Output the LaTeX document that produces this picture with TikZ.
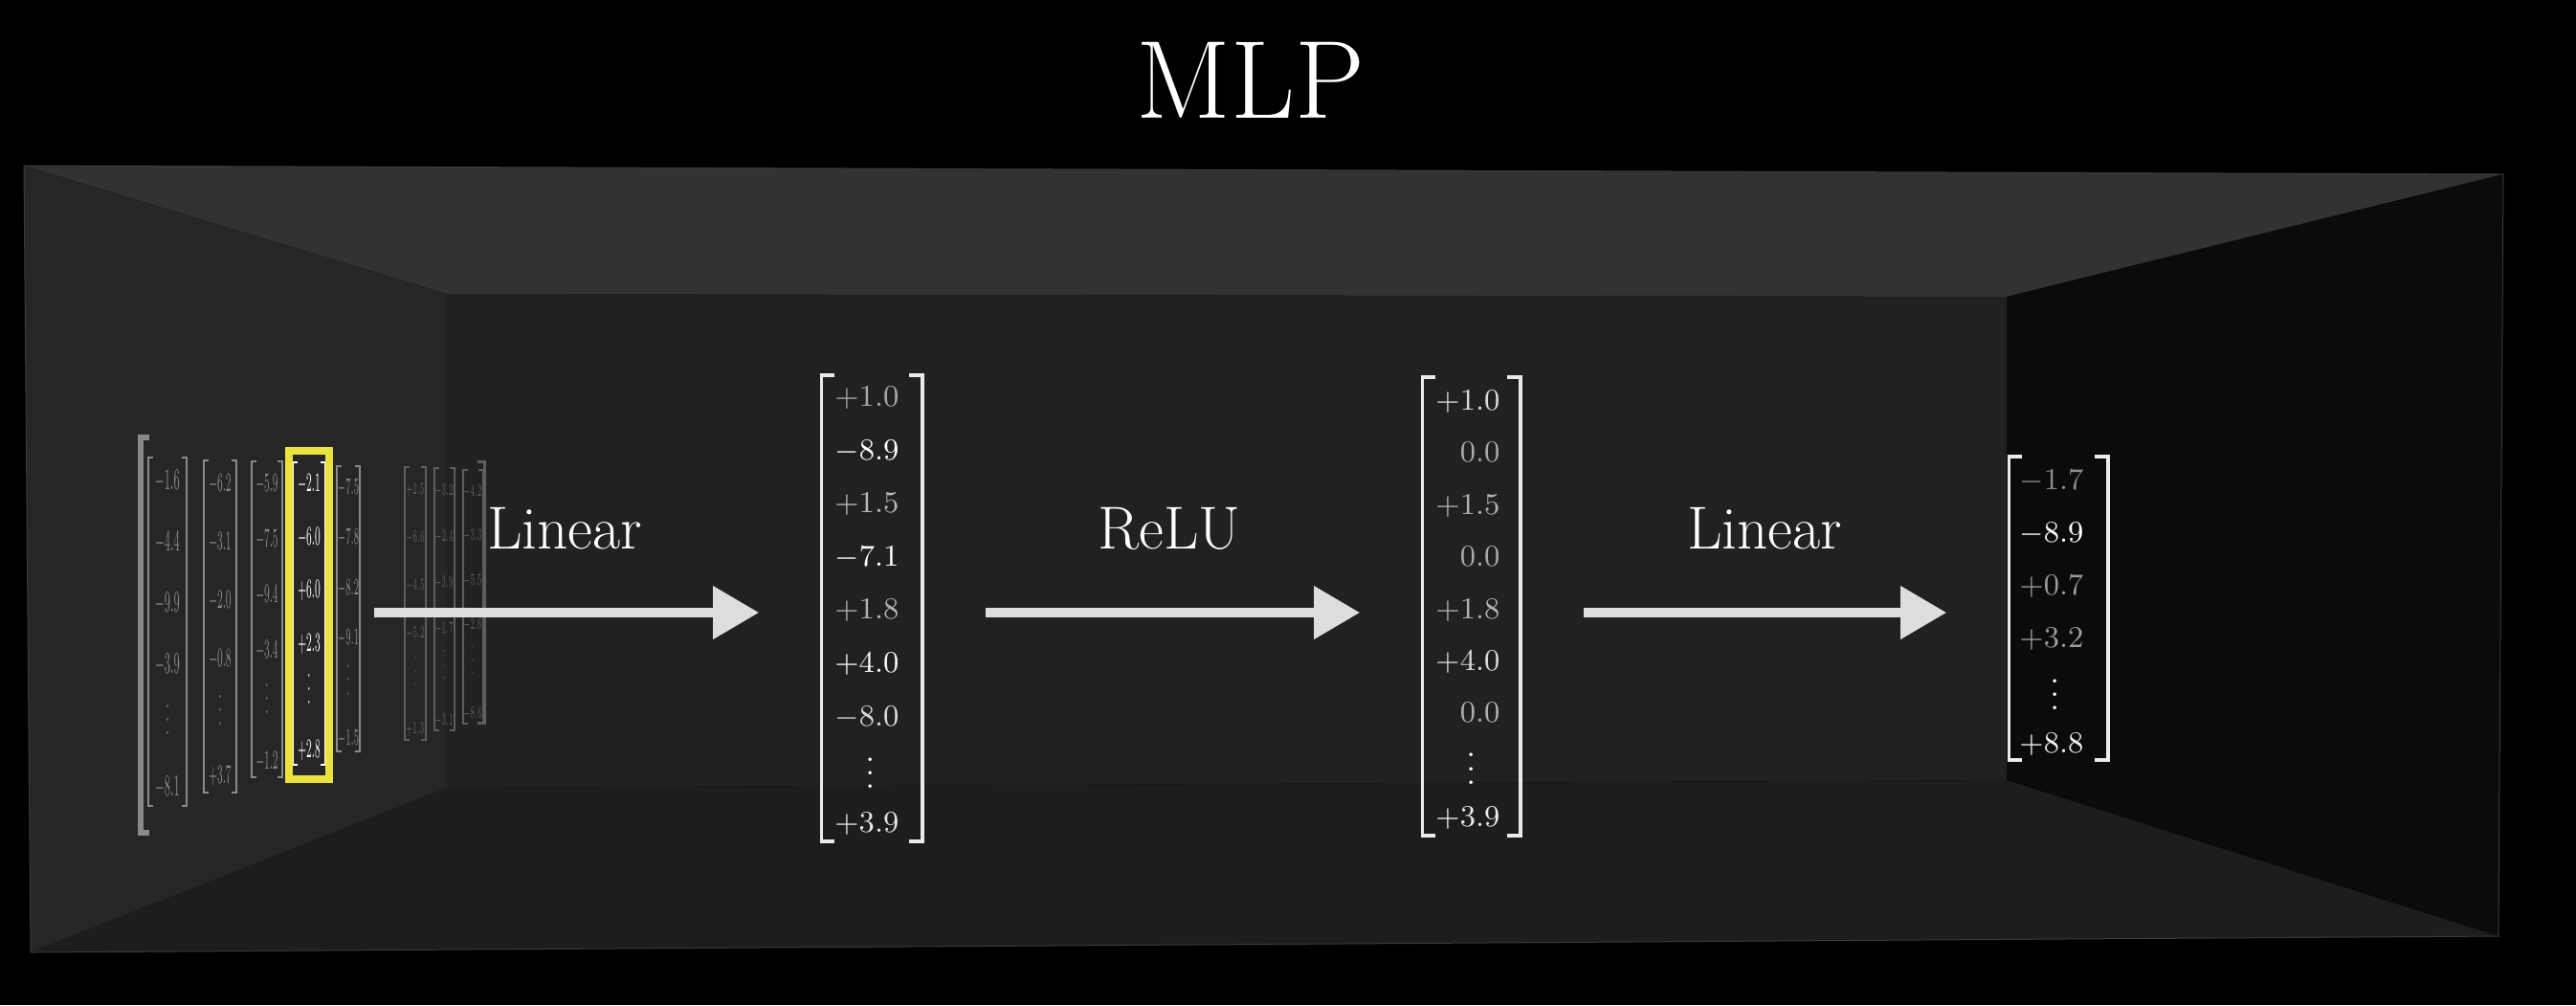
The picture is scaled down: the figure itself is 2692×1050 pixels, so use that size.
\documentclass[tikz,border=0pt]{standalone}
\usepackage{amsmath}
\usepackage{graphicx}
\usepackage{xcolor}
\usepackage{tikz}
\usetikzlibrary{arrows.meta}
\definecolor{ceil}{HTML}{323232}
\definecolor{lwall}{HTML}{262626}
\definecolor{bwall}{HTML}{212121}
\definecolor{flr}{HTML}{1D1D1D}
\definecolor{rwall}{HTML}{0B0B0B}
\definecolor{edgegray}{HTML}{3A3A3A}
\definecolor{arrowgray}{HTML}{DDDDDD}
\definecolor{matgray}{HTML}{8A8A8A}
\definecolor{fargray}{HTML}{5E5E5E}
\definecolor{hlyellow}{RGB}{236,226,62}

\begin{document}
\begin{tikzpicture}[x=0.01cm, y=-0.01cm,
  entry/.style={anchor=east, inner sep=0pt, text height=0.65em, text depth=0pt, font=\fontsize{9.5}{11}\selectfont},
  vecbox/.style={inner sep=0pt},
  brk/.style={line width=0.035cm, white!92!black},
  mcell/.style={inner sep=0pt, text height=0.65em, text depth=0pt},
  mbrk/.style={line width=0.02cm},
  selbox/.style={draw=hlyellow, line width=0.075cm, minimum width=0.42cm, minimum height=3.43cm, inner sep=0pt},
  flow/.style={line width=0.1cm, arrowgray, -{Triangle[length=0.48cm, width=0.53cm]}, shorten <=0.66cm, shorten >=0.65cm},
  lbl/.style={text=white, font=\fontsize{18}{22}\selectfont}]
  \fill[black] (0,0) rectangle (2692,1050);
  % the room
  \coordinate (o1) at (25,173); \coordinate (o2) at (2616,182);
  \coordinate (o3) at (2611,978); \coordinate (o4) at (32,995);
  \coordinate (i1) at (467,307); \coordinate (i2) at (2097,310);
  \coordinate (i3) at (2097,815); \coordinate (i4) at (467,823);
  \fill[ceil] (o1) -- (o2) -- (i2) -- (i1) -- cycle;
  \fill[lwall] (o1) -- (i1) -- (i4) -- (o4) -- cycle;
  \fill[bwall] (i1) -- (i2) -- (i3) -- (i4) -- cycle;
  \fill[flr] (i4) -- (i3) -- (o3) -- (o4) -- cycle;
  \fill[rwall] (i2) -- (o2) -- (o3) -- (i3) -- cycle;
  \draw[edgegray, line width=0.01cm] (o1) -- (o2) -- (o3) -- (o4) -- cycle;
  \node[text=white, font=\fontsize{33}{40}\selectfont] (title) at (1307,84) {MLP};
  % input matrix on the left wall
  \draw[matgray, line width=0.06cm] (156,457) -- (147,457) -- (147,870) -- (156,870);
  \draw[fargray, line width=0.03cm] (499,482) -- (506,482) -- (506,755) -- (499,755);
  \foreach \n/\x/\y/\dy/\fs/\hw/\cl/\vals in {
      1/175/500/64/8.8/20/matgray/{-1.6,-4.4,-9.9,-3.9,\vdots,-8.1},
      2/230/502/61/8.5/17/matgray/{-6.2,-3.1,-2.0,-0.8,\vdots,+3.7},
      3/279/502/58/8/16/matgray/{-5.9,-7.5,-9.4,-3.4,\vdots,-1.2},
      4/323/502/55.6/8/17/white/{-2.1,-6.0,+6.0,+2.3,\vdots,+2.8},
      5/364/505/52.4/6.8/12/matgray/{-7.5,-7.8,-8.2,-9.1,\vdots,-1.5},
      6/434/505/50/5.5/11/fargray/{+2.5,-6.6,-4.5,-5.2,\vdots,+1.3},
      7/464/506/48/5.2/10.5/fargray/{-3.2,-2.4,-3.9,-1.7,\vdots,-3.1},
      8/494/507/46.5/5/10.5/fargray/{-4.2,-3.3,-5.5,-2.6,\vdots,-8.6}} {
    \foreach \e [count=\k] in \vals
      \node[mcell, text=\cl, font=\fontsize{\fs}{\fs}\selectfont] (c\n-\k) at (\x, {\y+(\k-1)*\dy}) {\scalebox{0.38}[1]{$\e$}};
    \draw[mbrk, color=\cl] ({\x-\hw+5}, {\y-0.35*\dy}) -- ++(-5,0) -- ({\x-\hw}, {\y+5.35*\dy}) -- ++(5,0);
    \draw[mbrk, color=\cl] ({\x+\hw-5}, {\y-0.35*\dy}) -- ++(5,0) -- ({\x+\hw}, {\y+5.35*\dy}) -- ++(-5,0);
  }
  \node[selbox] (sel) at (323,642.5) {};
  % hidden vectors
  \node[vecbox, minimum width=1.04cm, minimum height=4.85cm] (v1) at (911,635.5) {};
  \node[vecbox, minimum width=1.01cm, minimum height=4.77cm] (v2) at (1537.5,633.5) {};
  \node[vecbox, minimum width=1.02cm, minimum height=3.15cm] (v3) at (2151,635.5) {};
  \foreach \e/\c [count=\k] in {+1.0/66, -8.9/100, +1.5/72, -7.1/100, +1.8/70, +4.0/96, -8.0/85, {\raisebox{-2.8pt}{\vdots}\phantom{.0}}/100, +3.9/90}
    \node[entry, text=white!\c!black] (v1-\k) at (940, {413+(\k-1)*55.6}) {$\e$};
  \foreach \e/\c [count=\k] in {+1.0/85, 0.0/66, +1.5/70, 0.0/66, +1.8/70, +4.0/85, 0.0/68, {\raisebox{-2.8pt}{\vdots}\phantom{.0}}/100, +3.9/92}
    \node[entry, text=white!\c!black] (v2-\k) at (1568, {417+(\k-1)*54.4}) {$\e$};
  \foreach \e/\c [count=\k] in {-1.7/55, -8.9/100, +0.7/60, +3.2/62, {\raisebox{-2.8pt}{\vdots}\phantom{.0}}/100, +8.8/95}
    \node[entry, text=white!\c!black] (v3-\k) at (2178, {500+(\k-1)*55}) {$\e$};
  \foreach \v in {v1,v2,v3} {
    \draw[brk] ([xshift=0.14cm]\v.north west) -- (\v.north west) -- (\v.south west) -- ([xshift=0.14cm]\v.south west);
    \draw[brk] ([xshift=-0.14cm]\v.north east) -- (\v.north east) -- (\v.south east) -- ([xshift=-0.14cm]\v.south east);
  }
  % layers
  \coordinate (a1) at (391,640);
  \draw[flow, shorten <=0pt] (a1) -- (a1 -| v1.west);
  \draw[flow] (v1.east |- a1) -- (v2.west |- a1);
  \draw[flow] (v2.east |- a1) -- (v3.west |- a1);
  \node[lbl] (lin1) at (590,552) {Linear};
  \node[lbl] (relu) at (1222,552) {ReLU};
  \node[lbl] (lin2) at (1844,552) {Linear};
\end{tikzpicture}
\end{document}
